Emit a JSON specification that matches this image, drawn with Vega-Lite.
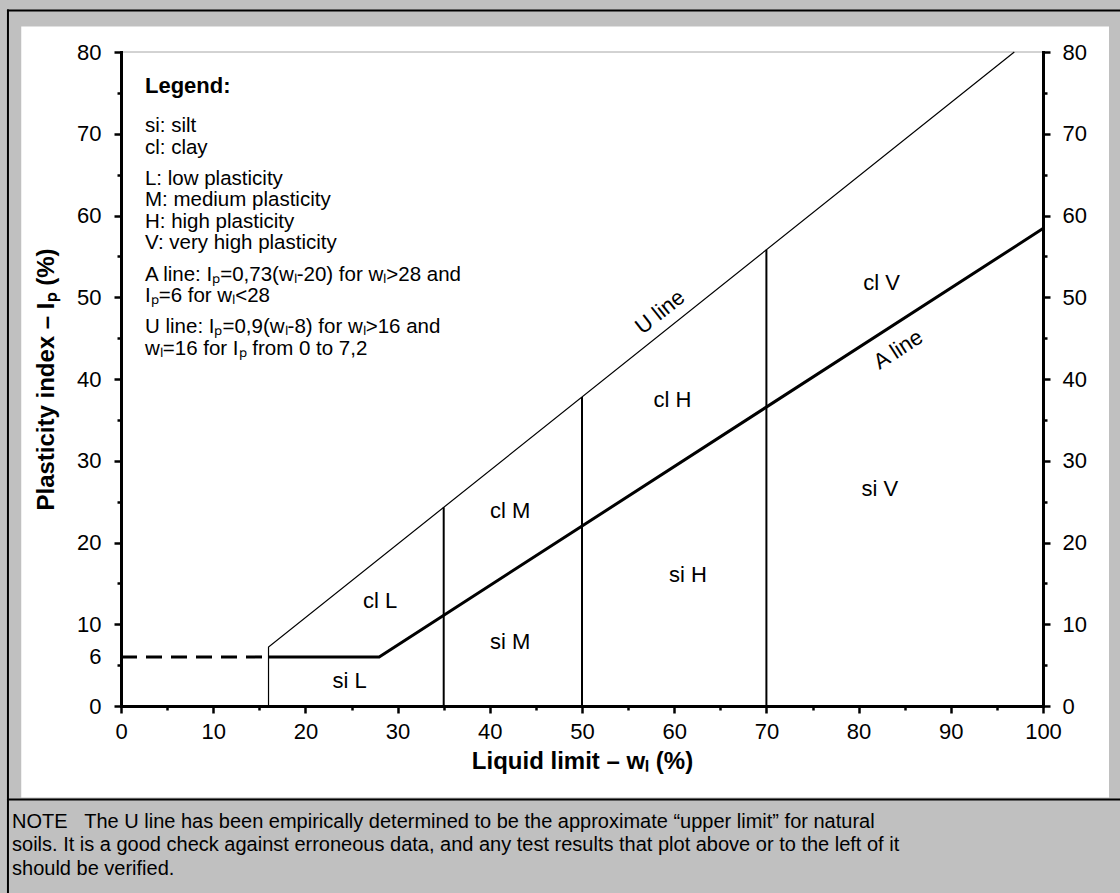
{
  "$schema": "https://vega.github.io/schema/vega-lite/v6.json",
  "width": 922,
  "height": 654,
  "autosize": {"type": "none"},
  "padding": {"left": 121, "top": 52, "right": 77, "bottom": 187},
  "background": "#c0c0c0",
  "config": {"font": "Liberation Sans", "view": {"stroke": null}},
  "datasets": {
    "panel": [{"x1": -10.82, "x2": 107.16, "y1": 83.12, "y2": -11.19}],
    "frame": [
      {"x1": -12.26, "x2": -12.26, "y1": 85.08, "y2": -25},
      {"x1": -12.26, "x2": 110, "y1": 85.08, "y2": 85.08},
      {"x1": -12.26, "x2": 110, "y1": -11.44, "y2": -11.44}
    ],
    "note": [
      {"x": -11.82, "y": -14.25, "text": "NOTE\u00a0\u00a0\u00a0The U line has been empirically determined to be the approximate “upper limit” for natural"},
      {"x": -11.82, "y": -17.06, "text": "soils. It is a good check against erroneous data, and any test results that plot above or to the left of it"},
      {"x": -11.82, "y": -19.88, "text": "should be verified."}
    ],
    "topborder": [{"x1": 0, "x2": 100, "y1": 80}],
    "verticals": [
      {"x": 35, "y1": 0, "y2": 24.3},
      {"x": 50, "y1": 0, "y2": 37.8},
      {"x": 70, "y1": 0, "y2": 55.8}
    ],
    "uline": [
      {"x": 16, "y": 0, "o": 0},
      {"x": 16, "y": 7.2, "o": 1},
      {"x": 96.889, "y": 80, "o": 2}
    ],
    "aline": [
      {"x": 16, "y": 6, "o": 0},
      {"x": 28, "y": 6, "o": 1},
      {"x": 100, "y": 58.4, "o": 2}
    ],
    "adash": [
      {"x": 0, "y": 6, "o": 0},
      {"x": 16, "y": 6, "o": 1}
    ],
    "regions": [
      {"x": 28.1, "y": 12.8, "label": "cl L"},
      {"x": 24.8, "y": 3.0, "label": "si L"},
      {"x": 42.2, "y": 7.8, "label": "si M"},
      {"x": 42.2, "y": 23.9, "label": "cl M"},
      {"x": 61.5, "y": 16.0, "label": "si H"},
      {"x": 59.8, "y": 37.4, "label": "cl H"},
      {"x": 82.3, "y": 26.5, "label": "si V"},
      {"x": 82.5, "y": 51.8, "label": "cl V"}
    ],
    "ulabel": [{"x": 58.46, "y": 48.2, "label": "U line"}],
    "alabel": [{"x": 84.3, "y": 43.6, "label": "A line"}],
    "legendtitle": [{"x": 2.6, "y": 75.9, "text": "Legend:"}],
    "legend": [
      {"x": 2.6, "y": 70.9, "text": "si: silt"},
      {"x": 2.6, "y": 68.27, "text": "cl: clay"},
      {"x": 2.6, "y": 64.47, "text": "L: low plasticity"},
      {"x": 2.6, "y": 61.84, "text": "M: medium plasticity"},
      {"x": 2.6, "y": 59.21, "text": "H: high plasticity"},
      {"x": 2.6, "y": 56.58, "text": "V: very high plasticity"},
      {"x": 2.6, "y": 52.78, "text": "A line: Iₚ=0,73(wₗ-20) for wₗ>28 and"},
      {"x": 2.6, "y": 50.15, "text": "Iₚ=6 for wₗ<28"},
      {"x": 2.6, "y": 46.3, "text": "U line: Iₚ=0,9(wₗ-8) for wₗ>16 and"},
      {"x": 2.6, "y": 43.67, "text": "wₗ=16 for Iₚ from 0 to 7,2"}
    ]
  },
  "layer": [
    {
      "data": {"name": "panel"},
      "mark": {"type": "rect", "fill": "white"},
      "encoding": {
        "x": {"field": "x1", "type": "quantitative", "scale": {"domain": [0, 100], "nice": false, "zero": false}, "axis": null},
        "x2": {"field": "x2"},
        "y": {"field": "y1", "type": "quantitative", "scale": {"domain": [0, 80], "nice": false, "zero": false}, "axis": null},
        "y2": {"field": "y2"}
      }
    },
    {
      "data": {"name": "frame"},
      "mark": {"type": "rule", "color": "black", "strokeWidth": 2, "strokeCap": "square"},
      "encoding": {
        "x": {"field": "x1", "type": "quantitative", "scale": {"domain": [0, 100], "nice": false, "zero": false}, "axis": null},
        "x2": {"field": "x2"},
        "y": {"field": "y1", "type": "quantitative", "scale": {"domain": [0, 80], "nice": false, "zero": false}, "axis": null},
        "y2": {"field": "y2"}
      }
    },
    {
      "data": {"name": "note"},
      "mark": {"type": "text", "align": "left", "baseline": "middle", "fontSize": 20, "color": "black"},
      "encoding": {
        "x": {"field": "x", "type": "quantitative", "scale": {"domain": [0, 100], "nice": false, "zero": false}, "axis": null},
        "y": {"field": "y", "type": "quantitative", "scale": {"domain": [0, 80], "nice": false, "zero": false}, "axis": null},
        "text": {"field": "text"}
      }
    },
    {
      "data": {"name": "topborder"},
      "mark": {"type": "rule", "color": "#a6a6a6", "strokeWidth": 1},
      "encoding": {
        "x": {
          "field": "x1", "type": "quantitative",
          "scale": {"domain": [0, 100], "nice": false, "zero": false},
          "axis": {
            "orient": "bottom", "zindex": 1, "grid": false,
            "values": [0, 5, 10, 15, 20, 25, 30, 35, 40, 45, 50, 55, 60, 65, 70, 75, 80, 85, 90, 95, 100],
            "labelExpr": "datum.value % 10 === 0 ? datum.label : ''",
            "labelFlush": false, "labelOverlap": false,
            "tickSize": {"condition": {"test": "datum.value % 10 !== 0", "value": 4}, "value": 7},
            "tickWidth": 2.5, "tickColor": "black",
            "domainColor": "black", "domainWidth": 3, "domainCap": "square",
            "labelFontSize": 22, "labelColor": "black", "labelPadding": 8,
            "title": "Liquid limit – wₗ (%)",
            "titleFontSize": 24, "titleFontWeight": "bold", "titleColor": "black", "titlePadding": 7
          }
        },
        "x2": {"field": "x2"},
        "y": {
          "field": "y1", "type": "quantitative",
          "scale": {"domain": [0, 80], "nice": false, "zero": false},
          "axis": {
            "orient": "left", "zindex": 1, "grid": false,
            "values": [0, 5, 6, 10, 15, 20, 25, 30, 35, 40, 45, 50, 55, 60, 65, 70, 75, 80],
            "labelExpr": "(datum.value % 10 === 0 || datum.value === 6) ? datum.label : ''",
            "labelOverlap": false, "labelFlush": false,
            "tickSize": {"condition": {"test": "datum.value % 10 === 5", "value": 4}, "value": 7},
            "tickOpacity": {"condition": {"test": "datum.value === 6", "value": 0}, "value": 1},
            "tickWidth": 2.5, "tickColor": "black",
            "domainColor": "black", "domainWidth": 3, "domainCap": "square",
            "labelFontSize": 22, "labelColor": "black", "labelPadding": 13,
            "title": "Plasticity index – Iₚ (%)",
            "titleFontSize": 24, "titleFontWeight": "bold", "titleColor": "black", "titlePadding": 18
          }
        }
      }
    },
    {
      "data": {"name": "verticals"},
      "mark": {"type": "rule", "color": "black", "strokeWidth": 2},
      "encoding": {
        "x": {"field": "x", "type": "quantitative", "scale": {"domain": [0, 100], "nice": false, "zero": false}, "axis": null},
        "y": {
          "field": "y1", "type": "quantitative",
          "scale": {"domain": [0, 80], "nice": false, "zero": false},
          "axis": {
            "orient": "right", "zindex": 1, "grid": false,
            "values": [0, 5, 10, 15, 20, 25, 30, 35, 40, 45, 50, 55, 60, 65, 70, 75, 80],
            "labelExpr": "datum.value % 10 === 0 ? datum.label : ''",
            "labelOverlap": false, "labelFlush": false,
            "tickSize": {"condition": {"test": "datum.value % 10 === 5", "value": 4}, "value": 7},
            "tickWidth": 2.5, "tickColor": "black",
            "domainColor": "black", "domainWidth": 3, "domainCap": "square",
            "labelFontSize": 22, "labelColor": "black", "labelPadding": 12,
            "title": null
          }
        },
        "y2": {"field": "y2"}
      }
    },
    {
      "data": {"name": "uline"},
      "mark": {"type": "line", "color": "black", "strokeWidth": 1.2},
      "encoding": {
        "x": {"field": "x", "type": "quantitative", "scale": {"domain": [0, 100], "nice": false, "zero": false}, "axis": null},
        "y": {"field": "y", "type": "quantitative", "scale": {"domain": [0, 80], "nice": false, "zero": false}, "axis": null},
        "order": {"field": "o"}
      }
    },
    {
      "data": {"name": "aline"},
      "mark": {"type": "line", "color": "black", "strokeWidth": 3},
      "encoding": {
        "x": {"field": "x", "type": "quantitative", "scale": {"domain": [0, 100], "nice": false, "zero": false}, "axis": null},
        "y": {"field": "y", "type": "quantitative", "scale": {"domain": [0, 80], "nice": false, "zero": false}, "axis": null},
        "order": {"field": "o"}
      }
    },
    {
      "data": {"name": "adash"},
      "mark": {"type": "line", "color": "black", "strokeWidth": 3, "strokeDash": [16, 9]},
      "encoding": {
        "x": {"field": "x", "type": "quantitative", "scale": {"domain": [0, 100], "nice": false, "zero": false}, "axis": null},
        "y": {"field": "y", "type": "quantitative", "scale": {"domain": [0, 80], "nice": false, "zero": false}, "axis": null},
        "order": {"field": "o"}
      }
    },
    {
      "data": {"name": "regions"},
      "mark": {"type": "text", "align": "center", "baseline": "middle", "fontSize": 22, "color": "black"},
      "encoding": {
        "x": {"field": "x", "type": "quantitative", "scale": {"domain": [0, 100], "nice": false, "zero": false}, "axis": null},
        "y": {"field": "y", "type": "quantitative", "scale": {"domain": [0, 80], "nice": false, "zero": false}, "axis": null},
        "text": {"field": "label"}
      }
    },
    {
      "data": {"name": "ulabel"},
      "mark": {"type": "text", "align": "center", "baseline": "middle", "fontSize": 22, "color": "black", "angle": 321.4},
      "encoding": {
        "x": {"field": "x", "type": "quantitative", "scale": {"domain": [0, 100], "nice": false, "zero": false}, "axis": null},
        "y": {"field": "y", "type": "quantitative", "scale": {"domain": [0, 80], "nice": false, "zero": false}, "axis": null},
        "text": {"field": "label"}
      }
    },
    {
      "data": {"name": "alabel"},
      "mark": {"type": "text", "align": "center", "baseline": "middle", "fontSize": 22, "color": "black", "angle": 327.1},
      "encoding": {
        "x": {"field": "x", "type": "quantitative", "scale": {"domain": [0, 100], "nice": false, "zero": false}, "axis": null},
        "y": {"field": "y", "type": "quantitative", "scale": {"domain": [0, 80], "nice": false, "zero": false}, "axis": null},
        "text": {"field": "label"}
      }
    },
    {
      "data": {"name": "legendtitle"},
      "mark": {"type": "text", "align": "left", "baseline": "middle", "fontSize": 22, "fontWeight": "bold", "color": "black"},
      "encoding": {
        "x": {"field": "x", "type": "quantitative", "scale": {"domain": [0, 100], "nice": false, "zero": false}, "axis": null},
        "y": {"field": "y", "type": "quantitative", "scale": {"domain": [0, 80], "nice": false, "zero": false}, "axis": null},
        "text": {"field": "text"}
      }
    },
    {
      "data": {"name": "legend"},
      "mark": {"type": "text", "align": "left", "baseline": "middle", "fontSize": 20.5, "color": "black"},
      "encoding": {
        "x": {"field": "x", "type": "quantitative", "scale": {"domain": [0, 100], "nice": false, "zero": false}, "axis": null},
        "y": {"field": "y", "type": "quantitative", "scale": {"domain": [0, 80], "nice": false, "zero": false}, "axis": null},
        "text": {"field": "text"}
      }
    }
  ],
  "resolve": {"axis": {"x": "independent", "y": "independent"}}
}
